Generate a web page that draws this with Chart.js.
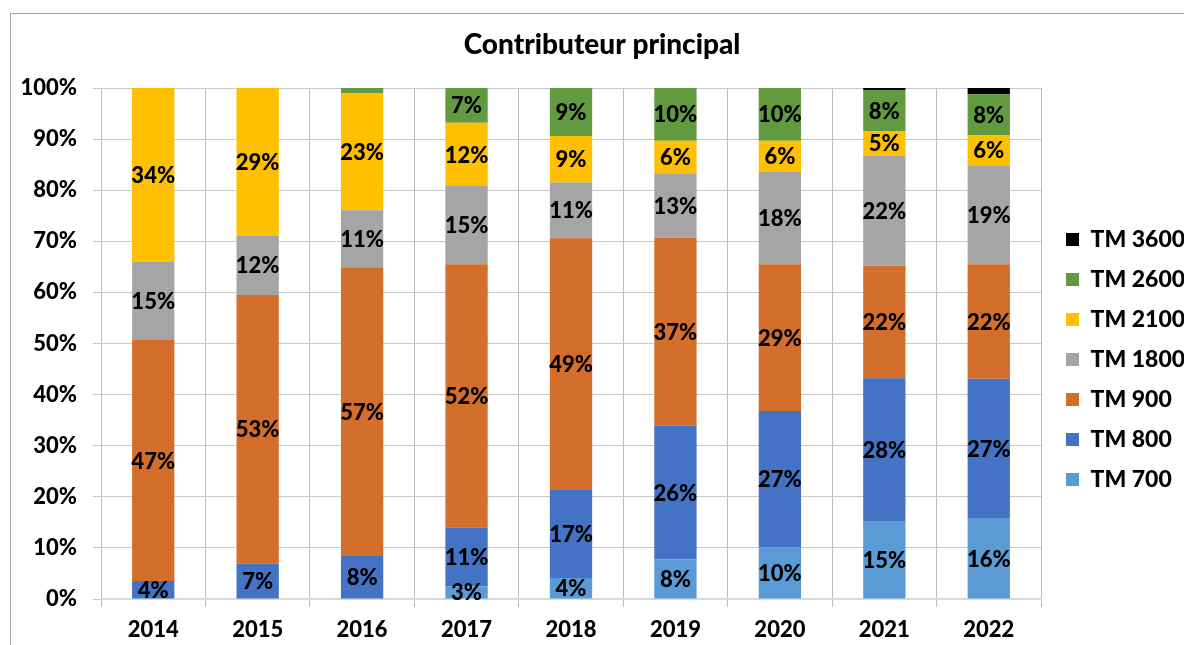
<!DOCTYPE html>
<html lang="fr">
<head>
    <meta charset="UTF-8">
    <title>Contributeur principal</title>
    <script src="https://cdn.jsdelivr.net/npm/chart.js"></script>
    <style>
        body { margin: 0; background: #fff; }
        .chart-container { width: 1184px; height: 645px; }
    </style>
</head>
<body>
    <div class="chart-container">
        <canvas id="mainChart" width="1184" height="645"></canvas>
    </div>

    <script>
        // Années (axe X)
        const years = ['2014', '2015', '2016', '2017', '2018', '2019', '2020', '2021', '2022'];

        // Parts par modèle, en %
        const tm700  = [0, 0, 0, 2.5, 4.1, 7.8, 10.1, 15.1, 15.7];
        const tm800  = [3.5, 6.9, 8.4, 11.45, 17.4, 26.1, 26.7, 28.1, 27.4];
        const tm900  = [47.2, 52.6, 56.5, 51.55, 49.1, 36.8, 28.7, 22.0, 22.4];
        const tm1800 = [15.3, 11.6, 11.2, 15.3, 10.9, 12.6, 18.1, 21.6, 19.4];
        const tm2100 = [34.0, 28.9, 22.8, 12.4, 9.1, 6.4, 6.1, 4.8, 5.8];
        const tm2600 = [0, 0, 1.1, 6.8, 9.4, 10.3, 10.3, 8.0, 8.1];
        const tm3600 = [0, 0, 0, 0, 0, 0, 0, 0.4, 1.2];

        // Graduations de l'axe Y
        const yTicks = [0, 10, 20, 30, 40, 50, 60, 70, 80, 90, 100];

        Chart.defaults.font.family = 'Lato, "Open Sans", sans-serif';
        Chart.defaults.color = '#000';

        // fond blanc + cadre gris
        const frame = {
            id: 'frame',
            beforeDraw(chart) {
                const { ctx, width, height } = chart;
                ctx.save();
                ctx.fillStyle = '#fff';
                ctx.fillRect(0, 0, width, height);
                ctx.strokeStyle = '#a6a6a6';
                ctx.lineWidth = 1;
                ctx.strokeRect(10.5, 13.5, width + 20, height + 20);
                ctx.restore();
            }
        };

        // légende : largeur fixe et position à droite
        const legendSpot = {
            id: 'legendSpot',
            beforeLayout(chart) {
                const lg = chart.legend;
                if (lg && !lg._fixedFit) {
                    const fit = lg.fit;
                    lg.fit = function () { fit.call(this); this.width = 143; };
                    lg._fixedFit = true;
                }
            },
            afterLayout(chart) {
                const lg = chart.legend;
                lg.left += 8;
                lg.right += 8;
                lg.top = 74;
            }
        };

        // étiquettes de valeur au centre des segments
        const valueLabels = {
            id: 'valueLabels',
            afterDatasetsDraw(chart) {
                const { ctx } = chart;
                ctx.save();
                ctx.font = '900 22px Lato, "Open Sans", sans-serif';
                ctx.fillStyle = '#000';
                ctx.textAlign = 'center';
                ctx.textBaseline = 'middle';
                chart.data.datasets.forEach((ds, i) => {
                    const meta = chart.getDatasetMeta(i);
                    meta.data.forEach((bar, j) => {
                        const v = ds.data[j];
                        if (v < 2.5) return;
                        ctx.fillText(Math.round(v) + '%', bar.x, (bar.y + bar.base) / 2 + 1);
                    });
                });
                ctx.restore();
            }
        };

        const series = [
            { label: 'TM 700',  data: tm700,  color: '#5b9bd5' },
            { label: 'TM 800',  data: tm800,  color: '#4472c4' },
            { label: 'TM 900',  data: tm900,  color: '#d46e2b' },
            { label: 'TM 1800', data: tm1800, color: '#a5a5a5' },
            { label: 'TM 2100', data: tm2100, color: '#ffc000' },
            { label: 'TM 2600', data: tm2600, color: '#629a40' },
            { label: 'TM 3600', data: tm3600, color: '#000000' }
        ];

        const ctx = document.getElementById('mainChart').getContext('2d');
        new Chart(ctx, {
            type: 'bar',
            data: {
                labels: years,
                datasets: series.map(s => ({
                    label: s.label,
                    data: s.data,
                    backgroundColor: s.color,
                    borderWidth: 0,
                    categoryPercentage: 1,
                    barPercentage: 0.405
                }))
            },
            options: {
                responsive: false,
                animation: false,
                layout: { padding: { left: 20 } },
                plugins: {
                    title: {
                        display: true,
                        text: 'Contributeur principal',
                        font: { size: 28, weight: '900' },
                        padding: { top: 28, bottom: 26.4 }
                    },
                    legend: {
                        position: 'right',
                        reverse: true,
                        labels: {
                            boxWidth: 13,
                            boxHeight: 13,
                            padding: 17,
                            font: { size: 23, weight: '900' }
                        }
                    },
                    tooltip: { enabled: false }
                },
                scales: {
                    x: {
                        stacked: true,
                        grid: { color: '#bdbdbd', tickLength: 8, offset: true },
                        border: { color: '#d9d9d9', width: 2 },
                        ticks: { padding: 10, font: { size: 22, weight: '900' } },
                        afterFit(scale) { scale.height = 46; }
                    },
                    y: {
                        stacked: true,
                        min: 0,
                        max: 100,
                        grid: { color: '#c8c8c8', tickLength: 8 },
                        border: { display: false },
                        afterBuildTicks(scale) { scale.ticks = yTicks.map(v => ({ value: v })); },
                        ticks: {
                            padding: 16,
                            font: { size: 22, weight: '900' },
                            callback: v => v + '%'
                        },
                        afterFit(scale) { scale.width = 81; }
                    }
                }
            },
            plugins: [frame, legendSpot, valueLabels]
        });
    </script>
</body>
</html>
